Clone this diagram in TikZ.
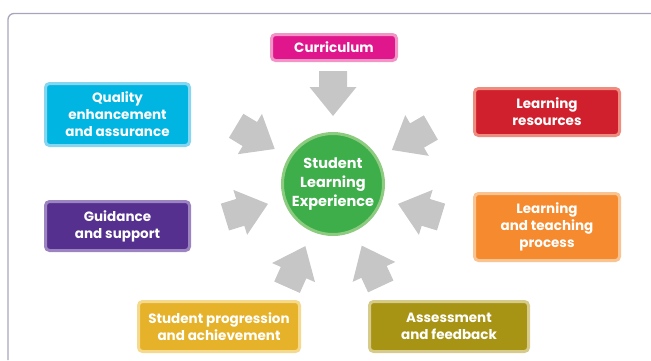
\documentclass[tikz,border=0pt]{standalone}
\usepackage{fontspec}
\setmainfont{Poppins}
\usetikzlibrary{calc}
\definecolor{framec}{HTML}{A8A4BE}
\definecolor{arrowc}{HTML}{C6C6C6}
\definecolor{greenF}{HTML}{3DAE4A}
\definecolor{greenB}{HTML}{8DCB80}
\definecolor{magF}{HTML}{E0168C}
\definecolor{magB}{HTML}{F294C6}
\definecolor{cyanF}{HTML}{00B5E2}
\definecolor{cyanB}{HTML}{86D6F0}
\definecolor{redF}{HTML}{D0202E}
\definecolor{redB}{HTML}{EE8C80}
\definecolor{purF}{HTML}{55308F}
\definecolor{purB}{HTML}{9C84C0}
\definecolor{oraF}{HTML}{F58A2E}
\definecolor{oraB}{HTML}{F9C392}
\definecolor{golF}{HTML}{E6B22A}
\definecolor{golB}{HTML}{F5D98C}
\definecolor{oliF}{HTML}{A89414}
\definecolor{oliB}{HTML}{D6CB8A}
\tikzset{
  box/.style={rounded corners=4pt, line width=3pt, inner sep=0pt, align=center,
    text=white, font=\fontsize{13.5}{17}\selectfont\bfseries},
  hub/.style={circle, line width=3pt, draw=greenB, fill=greenF, minimum size=101pt,
    inner sep=0pt, align=center, text=white, font=\fontsize{14.5}{19}\selectfont\bfseries},
  blockarrow/.pic={\fill[arrowc] (0,-14) -- (16,-14) -- (16,-23.5) -- (45,0) -- (16,23.5) -- (16,14) -- (0,14) -- cycle;}
}
\begin{document}
\begin{tikzpicture}[x=1pt,y=1pt]
\useasboundingbox (0,0) rectangle (651,360);
\draw[framec, line width=1.3pt, rounded corners=6pt] (8,0) -- (8,346.5) -- (651,346.5);
\node[hub] (hub) at (333,176) {Student\\Learning\\Experience};
\node[box, draw=magB, fill=magF, minimum width=125pt, minimum height=26pt] (cur) at (334,312.5) {Curriculum};
\node[box, draw=cyanB, fill=cyanF, minimum width=144pt, minimum height=62pt] (qua) at (117.5,245.5) {Quality\\enhancement\\and assurance};
\node[box, draw=purB, fill=purF, minimum width=144pt, minimum height=49pt] (gui) at (117.5,134) {Guidance\\and support};
\node[box, draw=redB, fill=redF, minimum width=145pt, minimum height=47pt] (res) at (547,248) {Learning\\resources};
\node[box, draw=oraB, fill=oraF, minimum width=145pt, minimum height=67pt] (lt) at (547,133) {Learning\\and teaching\\process};
\node[box, draw=golB, fill=golF, minimum width=161pt, minimum height=50pt] (sp) at (219,33.5) {Student progression\\and achievement};
\node[box, draw=oliB, fill=oliF, minimum width=159pt, minimum height=50pt] (ass) at (449,33.5) {Assessment\\and feedback};
\foreach \a in {90,149,197,246,295,343,30}{
  \pic[rotate=\a+180] at ($(hub.center)+(\a:113)$) {blockarrow};
}
\end{tikzpicture}
\end{document}
